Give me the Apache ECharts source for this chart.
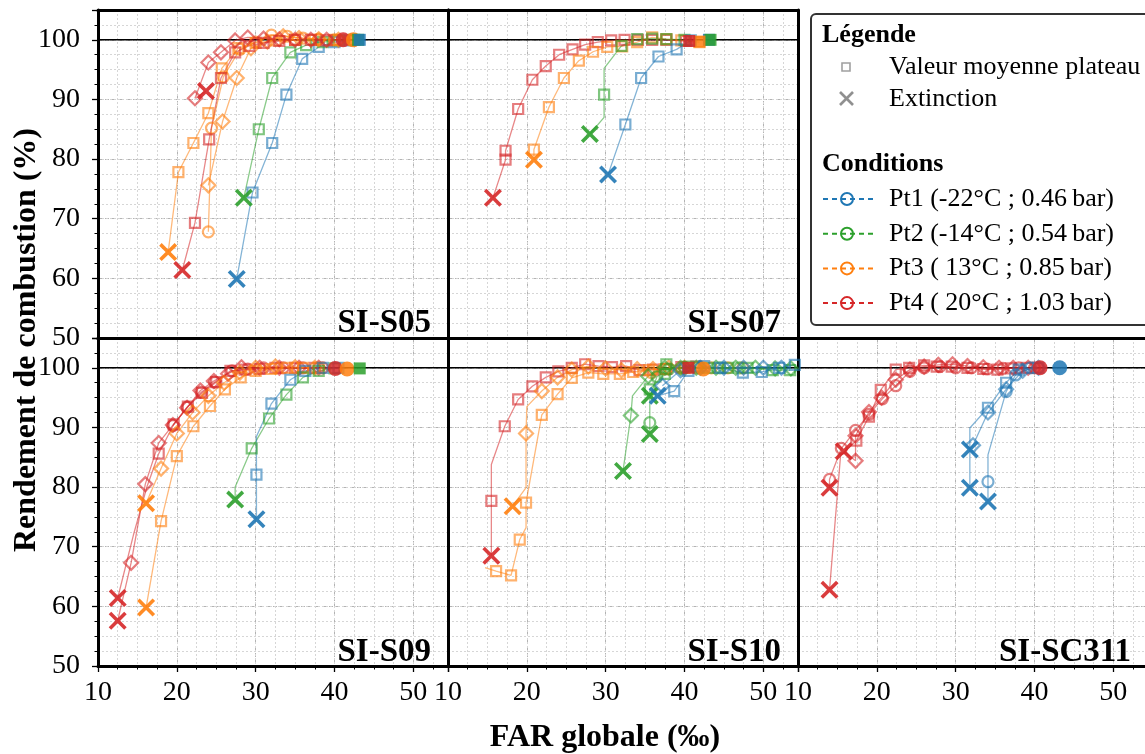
<!DOCTYPE html>
<html><head><meta charset="utf-8">
<script src="https://cdn.jsdelivr.net/npm/echarts@6/dist/echarts.min.js"></script>
<style>html,body{margin:0;padding:0;background:#fff}#c{width:1145px;height:754px}</style>
</head><body><div id="c"></div>
<script>
const FONT = '"Liberation Serif", "DejaVu Serif", serif';
const panelNames = ['SI-S05', 'SI-S07', 'SI-S09', 'SI-S10', 'SI-SC311'];
const conditionLabels = ['Pt1 (-22°C ; 0.46\u2009bar)', 'Pt2 (-14°C ; 0.54\u2009bar)', 'Pt3 ( 13°C ; 0.85\u2009bar)', 'Pt4 ( 20°C ; 1.03\u2009bar)'];
const conditionColors = ['#1f77b4', '#2ca02c', '#ff7f0e', '#d62728'];
const xTickValues = [10, 20, 30, 40, 50];
const yTickValues = [50, 60, 70, 80, 90, 100];
const xRange = [10, 54.4];
const yRange = [50, 105];
const referenceLevel = 100;

// Runs: [panelIndex, conditionIndex, marker, extinction point (or null), plateau points [FAR, rendement, (0 = no marker)]]
// --- SI-S05
const S05_P1 = [[29.6,74.4],[32.1,82.7],[33.9,90.8],[35.9,96.8],[38.0,98.8],[40.0,99.6],[42.0,99.9]];
const S05_P2 = [[30.4,85.0],[32.1,93.6],[34.4,97.9],[36.4,99.1],[38.5,99.6],[40.5,99.9],[42.5,100.0]];
const S05_P3_SQ = [[20.2,77.8],[22.1,82.7],[24.0,87.7],[25.7,95.2],[27.8,98.6],[30.0,99.5],[32.5,99.9],[35,100],[37.5,100],[40,100]];
const S05_P3_DI = [[24.0,75.6],[25.8,86.3],[27.6,93.6],[29.4,98.6],[31.5,99.7],[33.5,100.6],[35.5,100.3],[38,100.1],[40.5,100]];
const S05_P3_CI = [[24.0,67.8],[24.4,85.2],[25.9,93.8],[28,98.4],[30,99.6],[32,100.8],[34,100.6],[36,100.3],[38,100.1],[40,100],[42,100]];
const S05_P4_DI = [[22.3,90.2],[24.0,96.2],[25.6,97.9],[27.4,99.9],[29.0,100.4],[31,100.2],[33,100.1],[35,100],[37,100],[39,100]];
const S05_P4_SQ = [[22.3,69.3],[24.1,83.3],[25.6,93.6],[27.4,97.9],[29.2,99.0],[31,99.5],[33,99.8],[35,100],[37,100],[39,99.9]];
// --- SI-S07
const S07_P4 = [[17.3,79.9],[17.3,81.4],[18.9,88.4],[20.7,93.3],[22.4,95.6],[24.1,97.5],[25.8,98.4],[27.4,99.2],[29.0,99.6],[30.7,99.9],[32.4,100],[34.1,100],[35.9,100],[37.7,100],[40.2,99.8]];
const S07_P3 = [[20.9,81.6],[22.8,88.7],[24.7,93.6],[26.6,96.5],[28.4,98.0],[30.2,98.8],[32.1,98.9],[34.0,99.6],[35.9,100.4],[37.7,100.1],[39.6,99.9],[41.9,99.6]];
const S07_P2 = [[29.8,87.0,0],[29.8,90.8],[29.8,95.2,0],[32.0,99.0],[34.0,100.1],[35.9,100.2],[37.7,100.1],[40.0,100]];
const S07_P1 = [[32.5,85.8],[34.5,93.6],[36.7,97.2],[39.0,98.4],[40.8,99.9]];
// --- SI-S09
const S09_P4_DI = [[14.2,67.3],[16.0,80.5],[17.7,87.4],[19.5,90.4],[21.3,93.3],[23.0,96.2],[24.7,97.8],[26.5,99.0],[28.2,100.1],[30.5,100],[33,100],[35.5,100],[38,100]];
const S09_P4_SQ = [[14.5,72.0,0],[16.2,80.0,0],[17.7,85.6],[19.6,90.5],[21.4,93.5],[23.2,95.8],[25.0,97.6],[26.8,99.5],[28.6,99.7],[30.5,99.8],[32.5,100],[35,100],[37.5,100]];
const S09_P4_CI = [[19.5,90.3],[21.3,93.4],[23.1,95.9],[24.8,97.6],[27,99.5],[29,99.8],[31,100],[33.5,100],[36,100],[38.5,100]];
const S09_P3_SQ = [[18.0,74.3],[20.0,85.2],[22.1,90.2],[24.2,93.6],[26.1,96.4],[28.1,98.4],[30,99.5],[32,99.8],[34,100],[36,100],[38,100]];
const S09_P3_DI = [[18.0,83.1],[20.0,89.0],[22.0,92.5],[24.0,95.3],[26,97.5],[28,99.2],[30,100],[32.5,100.2],[35,100.1],[37.5,100]];
const S09_P2 = [[27.4,80.0,0],[29.5,86.5],[31.7,91.5],[33.9,95.5],[36.0,98.4],[38,99.5],[40,99.9]];
const S09_P1 = [[30.1,82.1],[30.1,88.5,0],[32.0,94.0],[34.4,98.0],[36.3,99.5],[38.5,100],[40.5,100]];
// --- SI-S10
const S10_P4 = [[15.5,77.7],[15.5,83.8,0],[17.2,90.2],[18.9,94.7],[20.7,96.9],[22.4,98.4],[24.0,99.4],[25.7,100],[27.4,100.6],[29.1,100.3],[30.8,100.1],[32.6,100.3],[34.3,99.6],[36.0,99.7],[37.7,99.8],[39.6,100.1],[41.5,100.2]];
const S10_P3_SQ = [[14.7,66.5,0],[16.1,65.9],[18.0,65.2],[19.1,71.2],[19.9,73.2,0],[19.9,77.4],[21.9,92.1],[23.9,95.6],[25.7,98.3],[27.8,99.2],[29.7,99.0],[31.8,99.0],[33.5,99.3],[35.5,99.6],[37.5,99.8],[40,100]];
const S10_P3_DI = [[19.9,79.9,0],[19.9,89.0],[20.0,93.5,0],[21.9,96.1],[23.9,98.4],[25.7,99.7],[27.8,100.2],[30,99.9],[32,99.6],[34,99.8],[36,99.8],[38,100],[40,100]];
const S10_P3_CI = [[35.8,99.2],[37.5,99.8],[39.6,99.9],[41.5,100],[43.4,100],[45.5,100],[47.4,100]];
const S10_P2_DI = [[33.2,92.0],[33.4,95.3,0],[35.4,98.6],[37.5,100],[39.5,100],[41.5,100],[44,100],[46.5,100],[49,100],[51.5,99.9],[53.5,99.9]];
const S10_P2_CI = [[35.6,90.8],[35.6,95.0,0],[36.5,98.5],[38,99.8],[40,100],[42,100],[44.5,100],[47,100]];
const S10_P2_SQ = [[35.6,96.4],[37.5,99.0],[37.7,100.6],[40.5,100.2],[43,100],[45.5,100],[48,100],[51.2,99.6],[53.4,99.6]];
const S10_P1_SQ = [[38.7,96.1],[40.5,99.5],[42.5,100.3],[44.5,100],[47.4,99.2],[49.8,99.3],[52,100],[54,100.5]];
const S10_P1_DI = [[37.2,97.0],[39.5,99.6],[42,100],[45,100],[47.5,100],[50,100],[52.3,100]];
// --- SI-SC311
const SC311_P4_CI = [[14.0,81.3],[15.5,86.5],[17.3,89.5],[19.0,92.2],[20.7,94.8],[22.4,97.0],[24.2,99.4],[26,100],[28,100.2],[30,100],[32,100],[34,99.8],[36,99.9],[38,100],[40,100]];
const SC311_P4_SQ = [[15.4,85.3,0],[17.4,87.8],[19.0,91.8],[20.5,96.3],[22.4,99.7],[24.1,100],[26,100.4],[27.6,100.2],[29.5,100.2],[31.5,100],[33.5,99.8],[35.3,99.7],[37,99.9],[39,100]];
const SC311_P4_DI = [[17.3,84.4],[17.3,88.6],[19.0,92.6],[20.6,95.0],[22.4,98.0],[24.2,99.7],[26,100.2],[27.8,100.5],[29.6,100.6],[31.5,100.3],[33.5,100.1],[35.5,100],[37.3,100],[39.2,100]];
const SC311_P1_SQ = [[31.8,89.9,0],[34.1,93.3],[36.4,97.5],[38.0,99.7],[40.5,100]];
const SC311_P1_CI = [[34.1,80.9],[34.1,85.4,0],[36.4,96.0],[37.6,98.8],[39.5,100]];
const SC311_P1_DI = [[32.2,87.0],[34.1,92.5],[36.4,96.4],[38.5,99.5],[40.5,100]];

const runs = [
  [0,0,'rect',[27.6,59.9],S05_P1],
  [0,1,'rect',[28.5,73.5],S05_P2],
  [0,2,'rect',[18.9,64.4],S05_P3_SQ],
  [0,2,'diamond',null,S05_P3_DI],
  [0,2,'circle',null,S05_P3_CI],
  [0,3,'diamond',[23.7,91.4],S05_P4_DI],
  [0,3,'rect',[20.7,61.4],S05_P4_SQ],
  [1,3,'rect',[15.7,73.5],S07_P4],
  [1,2,'rect',[20.9,79.9],S07_P3],
  [1,1,'rect',[28.0,84.2],S07_P2],
  [1,0,'rect',[30.3,77.4],S07_P1],
  [2,3,'diamond',[12.5,57.6],S09_P4_DI],
  [2,3,'rect',[12.5,61.4],S09_P4_SQ],
  [2,3,'circle',null,S09_P4_CI],
  [2,2,'rect',[16.1,59.8],S09_P3_SQ],
  [2,2,'diamond',[16.1,77.3],S09_P3_DI],
  [2,1,'rect',[27.4,77.9],S09_P2],
  [2,0,'rect',[30.1,74.6],S09_P1],
  [3,3,'rect',[15.5,68.5],S10_P4],
  [3,2,'rect',null,S10_P3_SQ],
  [3,2,'diamond',[18.2,76.8],S10_P3_DI],
  [3,2,'circle',null,S10_P3_CI],
  [3,1,'diamond',[32.2,82.7],S10_P2_DI],
  [3,1,'circle',[35.6,88.9],S10_P2_CI],
  [3,1,'rect',[35.6,95.3],S10_P2_SQ],
  [3,0,'rect',[36.6,95.3],S10_P1_SQ],
  [3,0,'diamond',null,S10_P1_DI],
  [4,3,'circle',[14.0,79.9],SC311_P4_CI],
  [4,3,'rect',[14.0,62.8],SC311_P4_SQ],
  [4,3,'diamond',[15.8,86.0],SC311_P4_DI],
  [4,0,'rect',[31.8,79.9],SC311_P1_SQ],
  [4,0,'circle',[34.1,77.6],SC311_P1_CI],
  [4,0,'diamond',[31.8,86.3],SC311_P1_DI]
];

// Filled reference points at the end of the plateaus: [panel, condition, FAR, rendement, symbol]
const endPoints = [
  [0,3,41.1,100,'circle'],[0,2,42.4,100,'circle'],[0,1,43.0,100,'rect'],[0,0,43.2,100,'rect'],
  [1,0,43.1,100,'rect'],[1,1,43.3,100,'rect'],[1,2,41.9,99.7,'rect'],[1,3,40.6,99.8,'rect'],
  [2,3,40.1,99.9,'circle'],[2,2,41.6,99.8,'circle'],[2,1,43.2,99.9,'rect'],
  [3,3,40.5,100,'rect'],[3,2,42.4,99.8,'circle'],
  [4,3,40.7,100,'circle'],[4,0,43.2,100,'circle']
];

const X_PATH = 'path://M0,1.4L1.4,0L5,3.6L8.6,0L10,1.4L6.4,5L10,8.6L8.6,10L5,6.4L1.4,10L0,8.6L3.6,5Z';
const markerSize = {rect: 10, diamond: 14, circle: 11};
const gridBoxes = [[98,10],[448,10],[98,338],[448,338],[798,338]];
const bottomRow = [false,false,true,true,true];
const leftCol = [true,false,true,false,false];

const grids = gridBoxes.map(([l,t]) => ({left:l, top:t, width:350, height:328, containLabel:false, outerBoundsMode:'none', show:false}));

const xAxes = [], yAxes = [];
for (let p = 0; p < 5; p++) {
  xAxes.push({
    gridIndex:p, type:'value', position:'bottom', min:xRange[0], max:xRange[1], interval:10,
    axisLine:{show:true, onZero:false, lineStyle:{color:'#000', width:3}},
    axisTick:{show:bottomRow[p], inside:false, length:6, lineStyle:{color:'#000', width:1.3}},
    minorTick:{show:bottomRow[p], splitNumber:4, length:3.5, lineStyle:{color:'#000', width:1}},
    axisLabel:{show:bottomRow[p], margin:13, color:'#000', fontFamily:FONT, fontSize:28, showMaxLabel:false,
      formatter:v => xTickValues.includes(v) ? String(v) : ''},
    splitLine:{show:true, showMinLine:false, showMaxLine:false, lineStyle:{color:'#b3b3b3', width:1, type:[4,3]}}
  });
  yAxes.push({
    gridIndex:p, type:'value', position:'left', min:yRange[0], max:yRange[1], interval:10,
    axisLine:{show:true, onZero:false, lineStyle:{color:'#000', width:3}},
    axisTick:{show:leftCol[p], inside:false, length:6, lineStyle:{color:'#000', width:1.3}},
    minorTick:{show:leftCol[p], splitNumber:4, length:3.5, lineStyle:{color:'#000', width:1}},
    axisLabel:{show:leftCol[p], margin:18, color:'#000', fontFamily:FONT, fontSize:28, showMaxLabel:false,
      formatter:v => yTickValues.includes(v) ? String(v) : ''},
    splitLine:{show:true, showMinLine:false, showMaxLine:false, lineStyle:{color:'#b3b3b3', width:1, type:[4,3]}}
  });
}
for (let p = 0; p < 5; p++) {
  xAxes.push({
    gridIndex:p, type:'value', position:'top', min:xRange[0], max:xRange[1], interval:2.5,
    axisLine:{show:true, onZero:false, lineStyle:{color:'#000', width:3}},
    axisTick:{show:false}, axisLabel:{show:false},
    splitLine:{show:true, showMinLine:false, showMaxLine:false, lineStyle:{color:'#d6d6d6', width:1, type:[2,2]}}
  });
  yAxes.push({
    gridIndex:p, type:'value', position:'right', min:yRange[0], max:yRange[1], interval:2.5,
    axisLine:{show:true, onZero:false, lineStyle:{color:'#000', width:3}},
    axisTick:{show:false}, axisLabel:{show:false},
    splitLine:{show:true, showMinLine:false, showMaxLine:false, lineStyle:{color:'#d6d6d6', width:1, type:[2,2]}}
  });
}

const series = [];
for (let p = 0; p < 5; p++) {
  series.push({type:'line', xAxisIndex:p, yAxisIndex:p, silent:true, animation:false, symbol:'none', z:1,
    data:[[xRange[0], referenceLevel],[xRange[1], referenceLevel]], lineStyle:{color:'#000', width:1.6}});
}
runs.forEach(([p, c, marker, ext, pts]) => {
  const col = conditionColors[c];
  const data = [];
  if (ext) data.push({value:ext, symbol:X_PATH, symbolSize:18, itemStyle:{color:col, borderWidth:0, opacity:0.9}});
  pts.forEach(pt => data.push(pt[2] === 0 ? {value:[pt[0], pt[1]], symbol:'none'} : {value:[pt[0], pt[1]]}));
  series.push({type:'line', xAxisIndex:p, yAxisIndex:p, silent:true, animation:false, z:3,
    symbol:marker, symbolSize:markerSize[marker], showSymbol:true, data,
    lineStyle:{color:col, width:1.3, opacity:0.55},
    itemStyle:{color:'rgba(255,255,255,0)', borderColor:col, borderWidth:2.2, opacity:0.6}});
});
endPoints.forEach(([p, c, x, y, sym]) => {
  series.push({type:'scatter', xAxisIndex:p, yAxisIndex:p, silent:true, animation:false, z:4,
    symbol:sym, symbolSize: sym === 'rect' ? 12 : 15, data:[[x, y]],
    itemStyle:{color:conditionColors[c], opacity:0.85}});
});

// graphics: panel names, axis titles, legend
const graphics = [];
const nameAnchors = [[431,323],[781,323],[431,652],[781,652],[1131,652]];
panelNames.forEach((n, i) => graphics.push({type:'text', x:nameAnchors[i][0], y:nameAnchors[i][1], z:50,
  style:{text:n, fontFamily:FONT, fontWeight:'bold', fontSize:33, fill:'#000', align:'right', verticalAlign:'middle'}}));
graphics.push({type:'text', x:605, y:738, z:50, style:{text:'FAR globale (‰)', fontFamily:FONT, fontWeight:'bold', fontSize:32, fill:'#000', align:'center', verticalAlign:'middle'}});
graphics.push({type:'text', x:27, y:340, rotation:Math.PI/2, z:50, style:{text:'Rendement de combustion (%)', fontFamily:FONT, fontWeight:'bold', fontSize:32, fill:'#000', align:'center', verticalAlign:'middle'}});

graphics.push({type:'rect', z:60, shape:{x:811, y:14, width:345, height:311, r:5}, style:{fill:'#fff', stroke:'#333', lineWidth:2}});
graphics.push({type:'text', x:822, y:35, z:61, style:{text:'Légende', fontFamily:FONT, fontWeight:'bold', fontSize:26, fill:'#000', verticalAlign:'middle'}});
graphics.push({type:'rect', z:61, shape:{x:842, y:63, width:8, height:8}, style:{fill:'none', stroke:'#a0a0a0', lineWidth:1.6}});
graphics.push({type:'text', x:889, y:67, z:61, style:{text:'Valeur moyenne plateau', fontFamily:FONT, fontSize:26, fill:'#000', verticalAlign:'middle'}});
graphics.push({type:'line', z:61, shape:{x1:840, y1:92, x2:853, y2:105}, style:{stroke:'#909090', lineWidth:2.6}});
graphics.push({type:'line', z:61, shape:{x1:853, y1:92, x2:840, y2:105}, style:{stroke:'#909090', lineWidth:2.6}});
graphics.push({type:'text', x:889, y:99, z:61, style:{text:'Extinction', fontFamily:FONT, fontSize:26, fill:'#000', verticalAlign:'middle'}});
graphics.push({type:'text', x:822, y:164, z:61, style:{text:'Conditions', fontFamily:FONT, fontWeight:'bold', fontSize:26, fill:'#000', verticalAlign:'middle'}});
conditionLabels.forEach((lab, i) => {
  const y = 199 + i * 34.7;
  const col = conditionColors[i];
  graphics.push({type:'line', z:61, shape:{x1:823, y1:y, x2:873, y2:y}, style:{stroke:col, lineWidth:2, lineDash:[5,4]}});
  graphics.push({type:'circle', z:62, shape:{cx:847, cy:y, r:6}, style:{fill:'none', stroke:col, lineWidth:2}});
  graphics.push({type:'text', x:889, y:y, z:61, style:{text:lab, fontFamily:FONT, fontSize:26, fill:'#000', verticalAlign:'middle'}});
});

const chart = echarts.init(document.getElementById('c'), null, {renderer:'canvas'});
chart.setOption({
  backgroundColor:'#fff', animation:false,
  grid:grids, xAxis:xAxes, yAxis:yAxes, series, graphic:graphics
});
</script></body></html>
